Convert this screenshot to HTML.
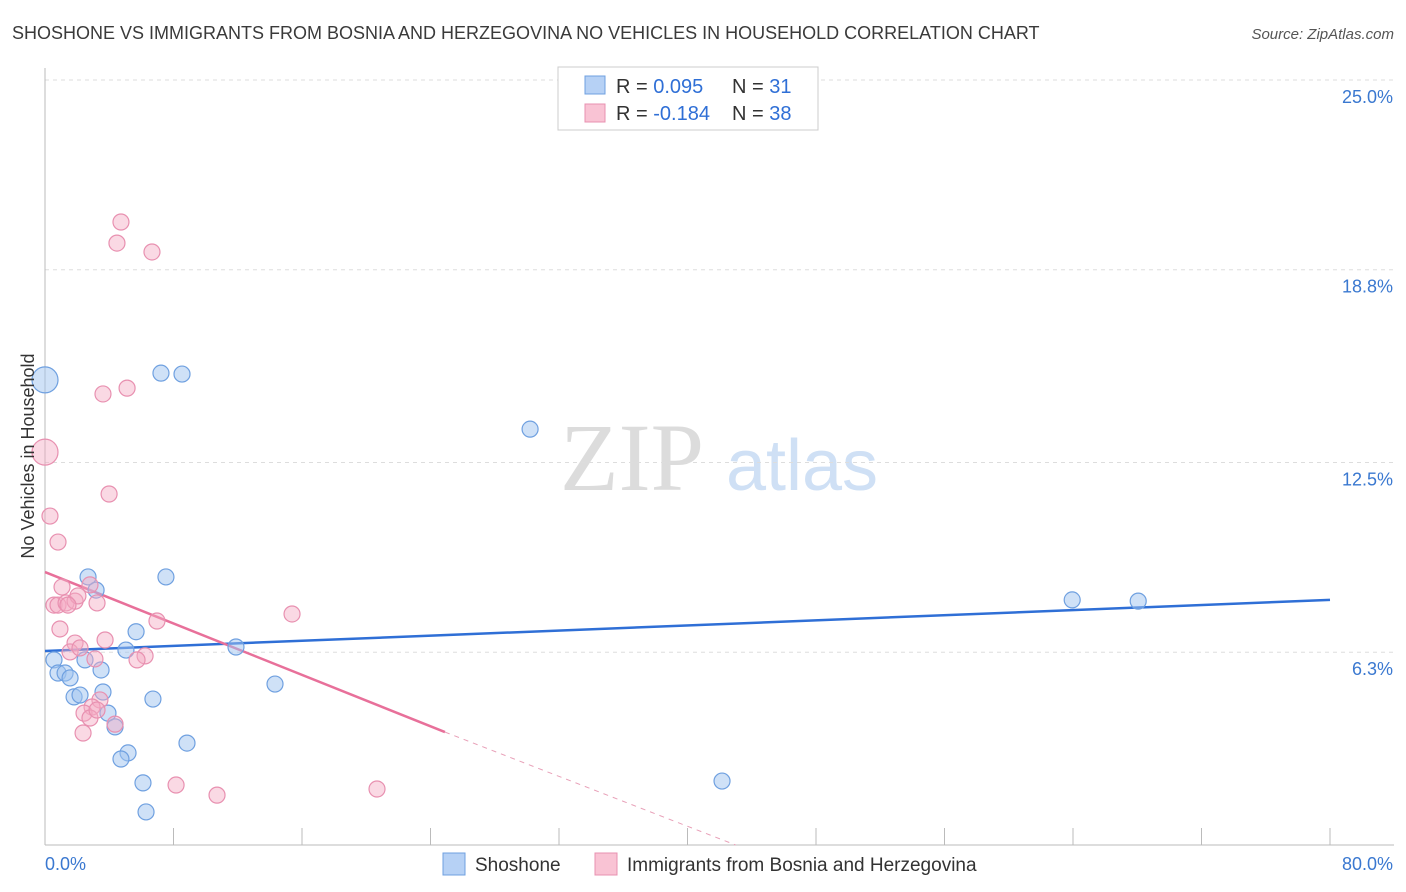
<!DOCTYPE html>
<html><head><meta charset="utf-8"><style>
body{margin:0;background:#fff;font-family:"Liberation Sans",sans-serif;}
svg{display:block}
</style></head><body>
<svg id="chart" width="1406" height="892" viewBox="0 0 1406 892" xmlns="http://www.w3.org/2000/svg">
<text x="12" y="39" font-size="18" fill="#3a3a3a">SHOSHONE VS IMMIGRANTS FROM BOSNIA AND HERZEGOVINA NO VEHICLES IN HOUSEHOLD CORRELATION CHART</text>
<text x="1394" y="39" font-size="15" fill="#555" text-anchor="end" font-style="italic">Source: ZipAtlas.com</text>
<g>
<text x="632" y="490" font-size="96" fill="#dcdcdc" text-anchor="middle" font-family="Liberation Serif,serif">ZIP</text>
<text x="802" y="490" font-size="72" fill="#cfe0f5" text-anchor="middle">atlas</text>
</g>
<g id="grid"></g>
<g id="axes"></g>
<g id="lines"></g>
<g id="pts"></g>
<text transform="translate(34,456) rotate(-90)" font-size="18" fill="#333" text-anchor="middle">No Vehicles in Household</text>
<g>
<rect x="558" y="67" width="260" height="63" fill="#fff" stroke="#ccc"/>
<rect x="585" y="76" width="20" height="18" fill="#b6d1f5" stroke="#6fa0e0"/>
<rect x="585" y="104" width="20" height="18" fill="#f9c3d4" stroke="#e890b0"/>
<text x="616" y="93" font-size="20" fill="#333">R = <tspan fill="#2f6fd6">0.095</tspan></text>
<text x="732" y="93" font-size="20" fill="#333">N = <tspan fill="#2f6fd6">31</tspan></text>
<text x="616" y="120" font-size="20" fill="#333">R = <tspan fill="#2f6fd6">-0.184</tspan></text>
<text x="732" y="120" font-size="20" fill="#333">N = <tspan fill="#2f6fd6">38</tspan></text>
</g>
<g>
<rect x="443" y="853" width="22" height="22" fill="#b6d1f5" stroke="#6fa0e0"/>
<text x="475" y="871" font-size="19" fill="#333">Shoshone</text>
<rect x="595" y="853" width="22" height="22" fill="#f9c3d4" stroke="#e890b0"/>
<text x="627" y="871" font-size="19" fill="#333">Immigrants from Bosnia and Herzegovina</text>
</g>
</svg>
<script>
const yTicks=[6.3,12.5,18.8,25.0];
const yTickLabels=["6.3%","12.5%","18.8%","25.0%"];
const xTickCount=10;
const xEndLabels=["0.0%","80.0%"];
const blueX=[0,7.22,8.53,30.2,2.68,3.18,7.53,5.67,5.04,11.89,0.56,2.49,0.81,1.25,1.56,3.49,1.81,2.18,3.61,3.92,4.36,6.72,14.32,8.84,5.17,4.73,6.10,6.29,42.15,63.95,68.06];
const blueY=[15.2,15.42,15.39,13.59,8.76,8.33,8.76,6.97,6.37,6.47,6.05,6.05,5.62,5.62,5.46,5.72,4.84,4.90,5.00,4.31,3.86,4.77,5.26,3.33,3.01,2.81,2.03,1.08,2.09,8.01,7.97];
const pinkX=[0,0.31,0.81,4.73,4.48,6.66,5.11,3.61,3.99,1.06,2.80,0.56,0.81,1.31,1.87,2.05,3.24,0.93,3.74,1.87,1.56,3.11,6.23,5.73,6.97,15.38,3.42,2.93,2.43,2.80,4.36,2.37,8.16,10.71,20.67,3.24,2.18,1.43];
const pinkY=[12.84,10.75,9.9,20.36,19.67,19.38,14.93,14.74,11.47,8.43,8.5,7.84,7.84,7.91,7.97,8.14,7.91,7.06,6.70,6.60,6.31,6.08,6.18,6.05,7.32,7.55,4.74,4.51,4.31,4.15,3.95,3.66,1.96,1.63,1.83,4.41,6.44,7.84];
const blueTrend=[[0,6.34],[80,8.01]];
const pinkTrendSolid=[[0,8.92],[24.9,3.69]];
const pinkTrendDash=[[24.9,3.69],[43,0]];

const NS="http://www.w3.org/2000/svg";
const X0=45,X1=1330,YB=845;
const xs=v=>X0+v*(X1-X0)/80;
const ys=v=>YB-v*30.6;
function mk(tag,attrs,parent){const e=document.createElementNS(NS,tag);for(const k in attrs)e.setAttribute(k,attrs[k]);parent.appendChild(e);return e;}
const grid=document.getElementById('grid'),axes=document.getElementById('axes'),lines=document.getElementById('lines'),pts=document.getElementById('pts');
yTicks.forEach((t,i)=>{
 const l=mk('line',{x1:X0,x2:1394,y1:ys(t),y2:ys(t),stroke:'#ddd','stroke-dasharray':'4,4'},grid);
 
 
 const tx=mk('text',{x:1393,y:ys(t)+23,'font-size':18,fill:'#3a78d0','text-anchor':'end'},grid);
 tx.textContent=yTickLabels[i];
 
 
});
const ya=mk('line',{x1:X0,x2:X0,y1:68,y2:YB,stroke:'#bbb'},axes);


const xa=mk('line',{x1:X0,x2:1394,y1:YB,y2:YB,stroke:'#bbb'},axes);


for(let i=0;i<=xTickCount;i++){
 const v=i*80/xTickCount;
 const t=mk('line',{x1:xs(v),x2:xs(v),y1:828,y2:YB,stroke:'#bbb'},axes);
 
 
}
const xl0=mk('text',{x:45,y:870,'font-size':18,fill:'#3a78d0'},axes);xl0.textContent=xEndLabels[0];


const xl1=mk('text',{x:1393,y:870,'font-size':18,fill:'#3a78d0','text-anchor':'end'},axes);xl1.textContent=xEndLabels[1];



function pt(x,y,i,fill,stroke,name){
 const r=(x===0)?13:8;
 const c=mk('circle',{cx:xs(x),cy:ys(y),r:r,fill:fill,stroke:stroke,'stroke-width':1.2},pts);
 
 
}
blueX.forEach((x,i)=>pt(x,blueY[i],i,'rgba(160,196,240,0.5)','#6fa0e0','shoshone-point'));
pinkX.forEach((x,i)=>pt(x,pinkY[i],i,'rgba(245,170,195,0.45)','#e890b0','bosnia-point'));

function seg(p,stroke,w,dash,name){
 const a={x1:xs(p[0][0]),y1:ys(p[0][1]),x2:xs(p[1][0]),y2:ys(p[1][1]),stroke:stroke,'stroke-width':w};
 if(dash)a['stroke-dasharray']=dash;
 const l=mk('line',a,lines);
 
 
}
seg(blueTrend,'#2f6fd6',2.5,null,'shoshone-trendline');
seg(pinkTrendSolid,'#e8709a',2.5,null,'bosnia-trendline');
seg(pinkTrendDash,'#e8a0b8',1,'5,5','bosnia-trendline-extension');
</script>
</body></html>
